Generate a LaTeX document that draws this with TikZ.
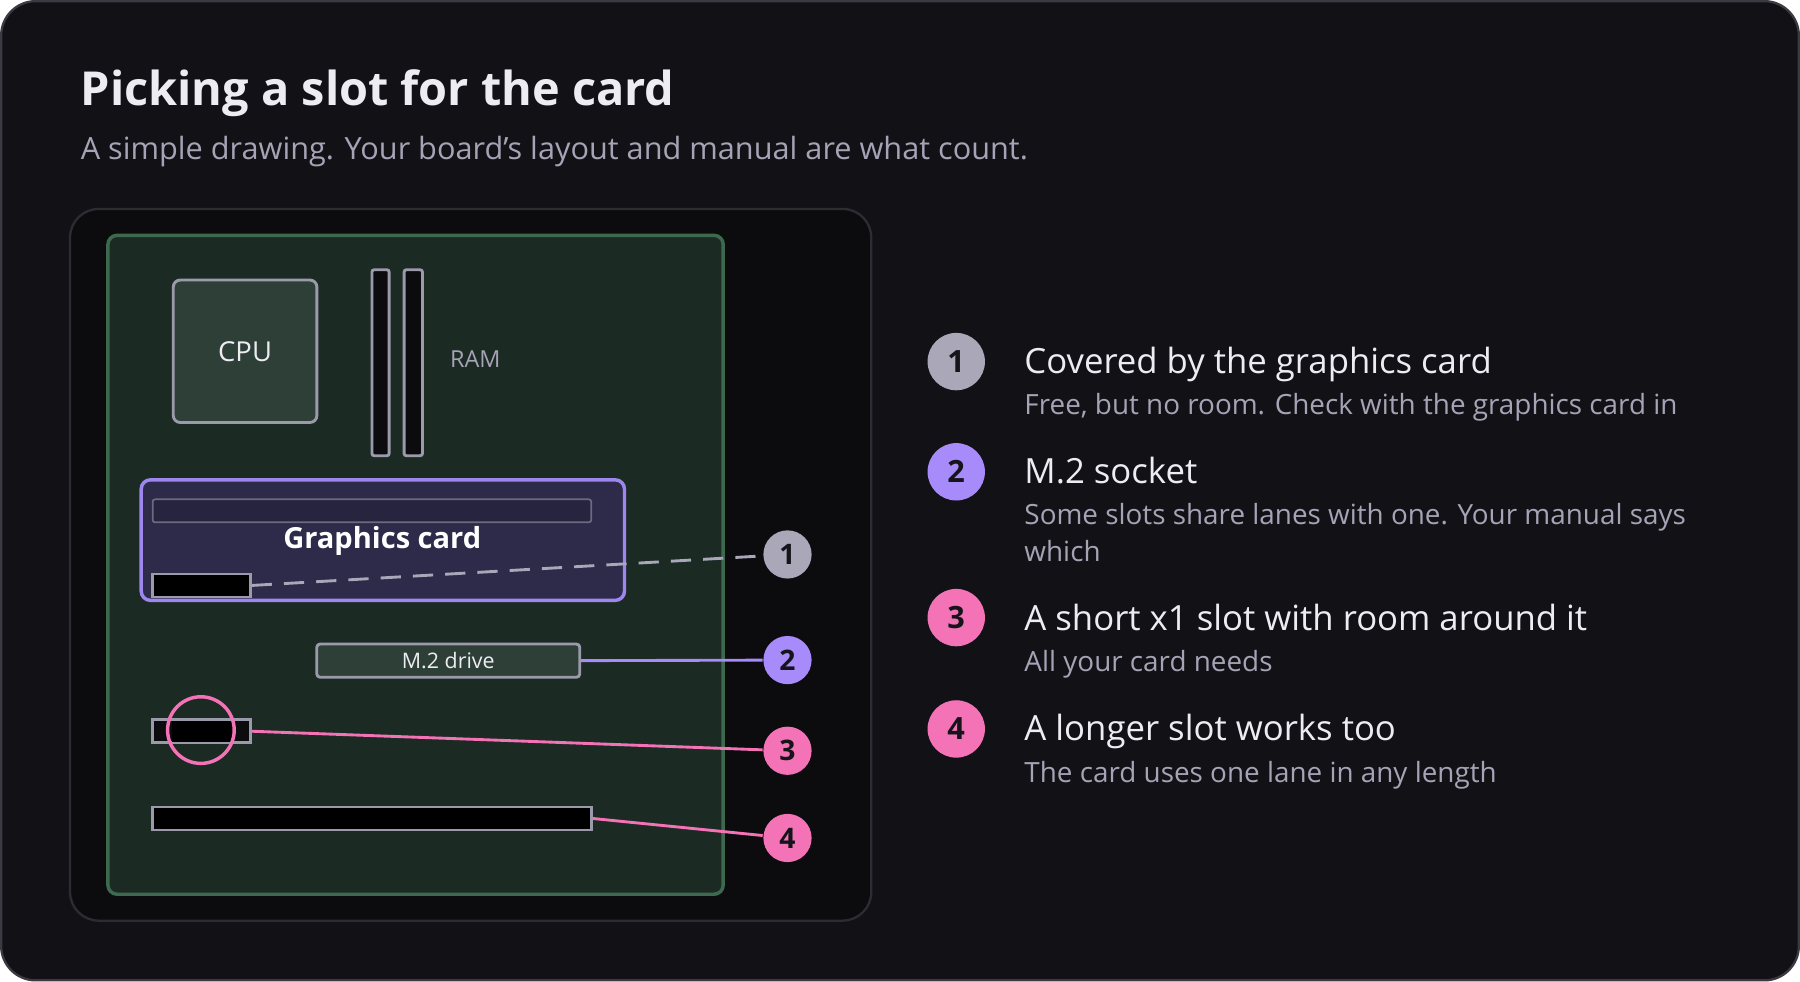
\documentclass[tikz,border=0pt]{standalone}
\usepackage{fontspec}
\setmainfont{Open Sans}
\newcommand\semib{\bfseries}
\begin{document}
\begin{tikzpicture}[x=0.01cm,y=-0.01cm,
 px/.style={line width=#1*0.2845pt},
 slotbox/.style={draw=slotgray,px=2.5,fill=black},
 num/.style={circle,minimum size=#1*0.01cm,inner sep=0pt,text=numtxt,font=\fontsize{7}{8}\selectfont\bfseries},
 head/.style={anchor=base west,text=headc,font=\fontsize{8.6}{10}\selectfont},
 sub/.style={anchor=base west,text=subc,font=\fontsize{6.9}{8}\selectfont}]
\definecolor{bgc}{HTML}{121116}\definecolor{bordc}{HTML}{3A3A42}
\definecolor{panel}{HTML}{0C0C0F}\definecolor{panelb}{HTML}{2C2C33}
\definecolor{board}{HTML}{1C2A24}\definecolor{boardb}{HTML}{3D6A4F}
\definecolor{chip}{HTML}{2E3F38}\definecolor{slotgray}{HTML}{9A9AAA}
\definecolor{gpu}{HTML}{2E2A4A}\definecolor{gpub}{HTML}{9D86EE}
\definecolor{grayn}{HTML}{A9A7B8}\definecolor{purp}{HTML}{A78BFA}
\definecolor{pink}{HTML}{F472B6}\definecolor{numtxt}{HTML}{15141A}
\definecolor{headc}{HTML}{EDECF2}\definecolor{subc}{HTML}{A5A3B5}
\useasboundingbox (0,0) rectangle (1568,855);
\draw[fill=bgc,draw=bordc,px=2,rounded corners=0.3cm] (1,1) rectangle (1567,854);
\node[anchor=base west,text=headc,font=\fontsize{11.6}{13}\selectfont\semib] (title) at (58,92) {Picking a slot for the card};
\node[anchor=base west,text=subc,font=\fontsize{7.6}{9}\selectfont] (subt) at (58,139) {A simple drawing. Your board's layout and manual are what count.};
\draw[fill=panel,draw=panelb,px=2,rounded corners=0.25cm] (61,182) rectangle (759,802);
\draw[fill=board,draw=boardb,px=3,rounded corners=0.08cm] (94,205) rectangle (630,779);
\node[draw=slotgray,px=2.5,fill=chip,rounded corners=0.06cm,minimum width=1.25cm,minimum height=1.24cm,text=headc,font=\fontsize{6.8}{8}\selectfont] (cpu) at (213.5,306) {CPU};
\draw[draw=slotgray,px=2.5,fill=panel,rounded corners=0.02cm] (324,235) rectangle (339,397);
\draw[draw=slotgray,px=2.5,fill=panel,rounded corners=0.02cm] (352,235) rectangle (368,397);
\node[text=subc,font=\fontsize{5.8}{7}\selectfont] (ram) at (414,313) {RAM};
\draw[fill=gpu,draw=gpub,px=3,rounded corners=0.08cm] (123,418) rectangle (544,523);
\draw[fill=gpu!85!black,draw=gpu!70!white,px=1.5,rounded corners=0.02cm] (133,435) rectangle (515,455);
\node[text=white,font=\fontsize{7.2}{8}\selectfont\semib] (gc) at (333,471) {Graphics card};
\node[slotbox,minimum width=0.85cm,minimum height=0.2cm,inner sep=0pt] (s1) at (175.5,510) {};
\node[draw=slotgray,px=2.5,fill=chip,rounded corners=0.03cm,minimum width=2.29cm,minimum height=0.29cm,inner sep=0pt,text=headc,font=\fontsize{5.3}{6}\selectfont] (m2) at (390.5,575.5) {M.2 drive};
\node[draw=slotgray,px=2.5,fill=panel,minimum width=0.85cm,minimum height=0.2cm,inner sep=0pt] (s3) at (175.5,637) {};
\fill[black] (150,628) rectangle (203,646);
\node[circle,draw=pink,px=3,minimum size=0.58cm,inner sep=0pt] (ring) at (175,636) {};
\node[slotbox,minimum width=3.82cm,minimum height=0.2cm,inner sep=0pt] (s4) at (324,713) {};
\node[num=42,fill=grayn] (n1) at (686,483) {1};
\node[num=42,fill=purp] (n2) at (686,575) {2};
\node[num=42,fill=pink] (n3) at (686,654) {3};
\node[num=42,fill=pink] (n4) at (686,730) {4};
\draw[grayn,px=2.5,dash pattern=on 5pt off 3pt] (s1.east) -- (n1);
\draw[purp,px=2.5] (m2.east) -- (n2);
\draw[pink,px=2.5] (s3.east) -- (n3);
\draw[pink,px=2.5] (s4.east) -- (n4);
\node[num=50,fill=grayn,font=\fontsize{7.6}{8}\selectfont\bfseries] (l1) at (833,315) {1};
\node[num=50,fill=purp,font=\fontsize{7.6}{8}\selectfont\bfseries] (l2) at (833,411) {2};
\node[num=50,fill=pink,font=\fontsize{7.6}{8}\selectfont\bfseries] (l3) at (833,538) {3};
\node[num=50,fill=pink,font=\fontsize{7.6}{8}\selectfont\bfseries] (l4) at (833,635) {4};
\node[head] (h1) at (880,325) {Covered by the graphics card};
\node[sub] (d1) at (880,361) {Free, but no room. Check with the graphics card in};
\node[head] (h2) at (880,421) {M.2 socket};
\node[sub] (d2) at (880,457) {Some slots share lanes with one. Your manual says};
\node[sub] (d2b) at (880,489) {which};
\node[head] (h3) at (880,549) {A short x1 slot with room around it};
\node[sub] (d3) at (880,585) {All your card needs};
\node[head] (h4) at (880,645) {A longer slot works too};
\node[sub] (d4) at (880,682) {The card uses one lane in any length};
\end{tikzpicture}
\end{document}
